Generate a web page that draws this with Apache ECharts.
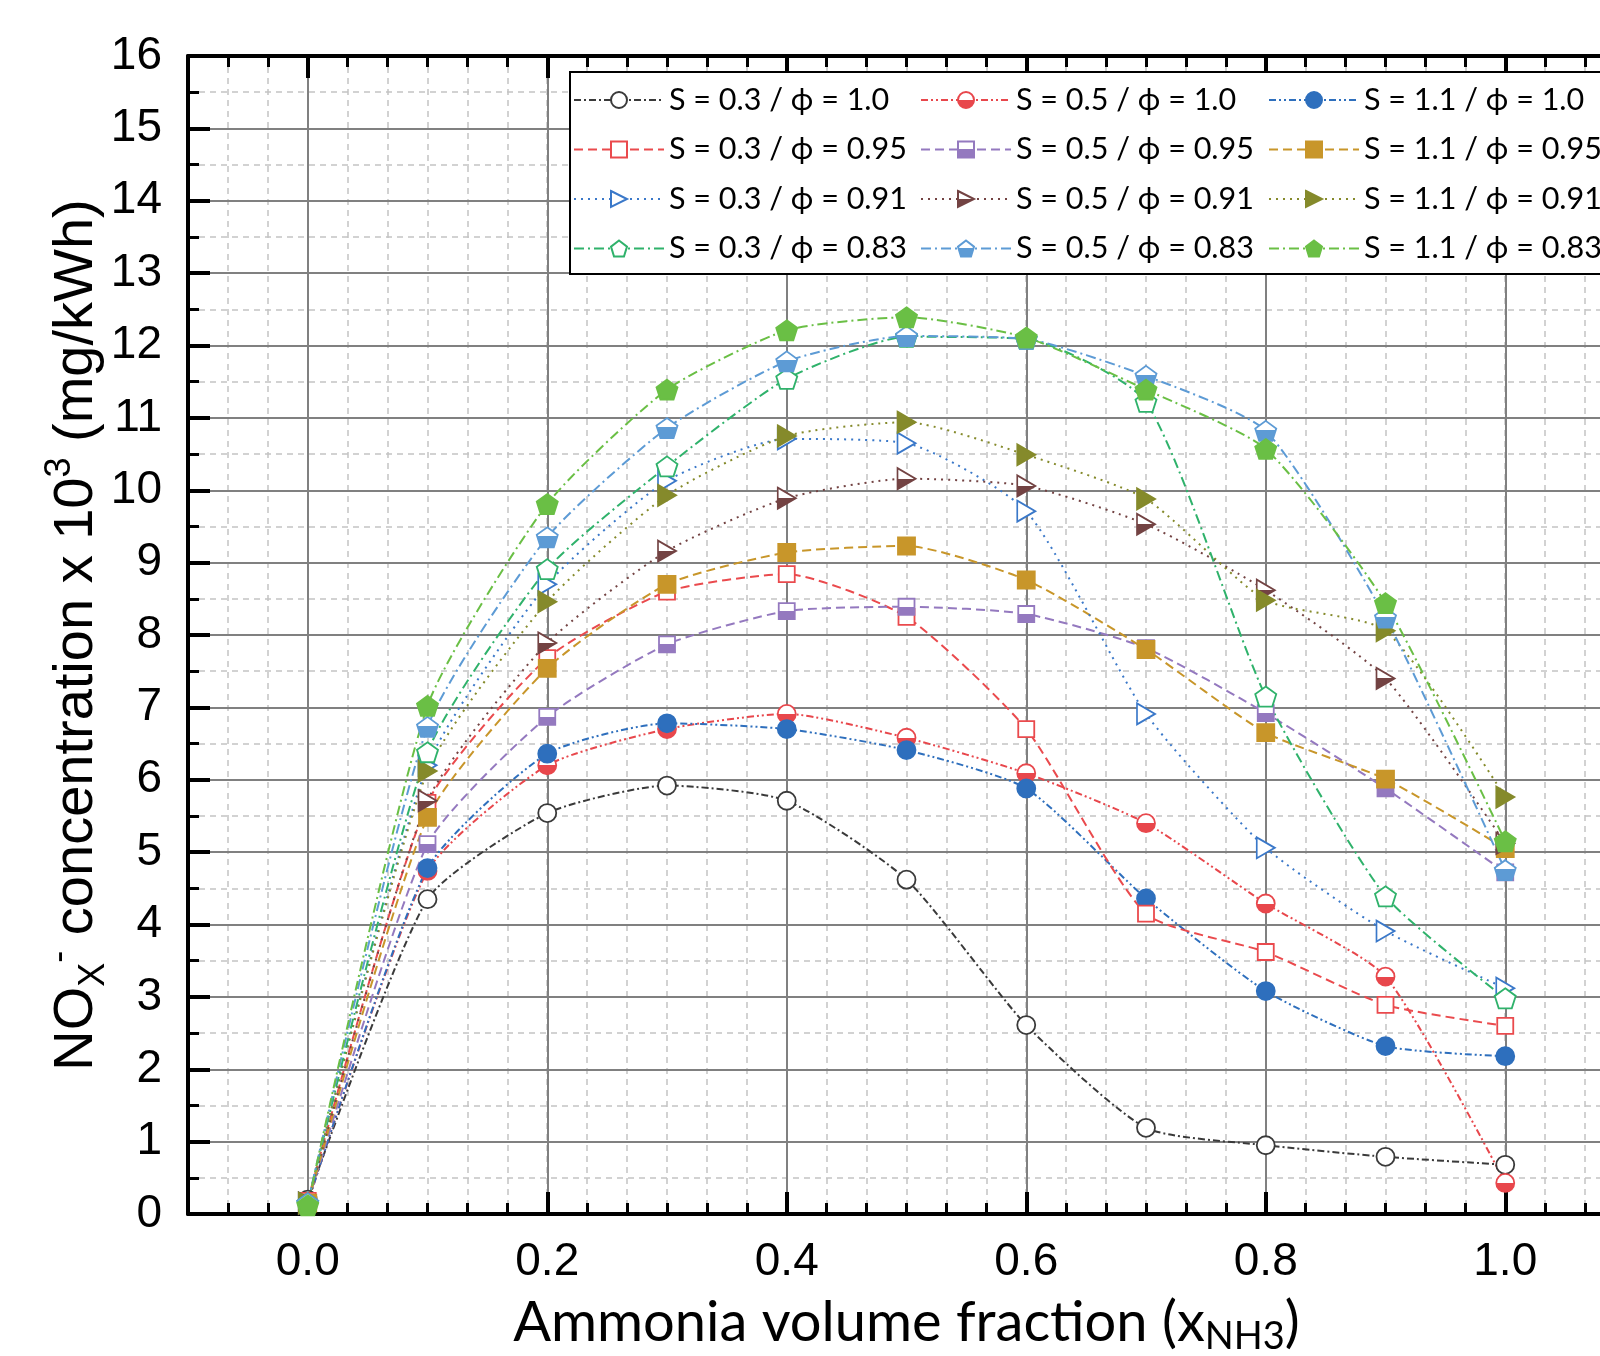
<!DOCTYPE html>
<html>
<head>
<meta charset="utf-8">
<script src="https://cdn.jsdelivr.net/npm/echarts@6/dist/echarts.min.js"></script>
<style>
html,body{margin:0;padding:0;background:#fff;overflow:hidden;}
#chart{width:1600px;height:1356px;}
</style>
</head>
<body>
<div id="chart"></div>
<script>
// ---------- data ----------
const xValues = [0, 0.1, 0.2, 0.3, 0.4, 0.5, 0.6, 0.7, 0.8, 0.9, 1.0];
const s03_phi100 = [0.20, 4.35, 5.54, 5.92, 5.71, 4.62, 2.61, 1.19, 0.95, 0.79, 0.68];
const s05_phi100 = [0.15, 4.74, 6.20, 6.70, 6.91, 6.58, 6.09, 5.40, 4.29, 3.28, 0.43];
const s11_phi100 = [0.15, 4.78, 6.36, 6.78, 6.70, 6.41, 5.88, 4.36, 3.08, 2.32, 2.18];
const s03_phi095 = [0.18, 5.68, 7.68, 8.60, 8.84, 8.25, 6.70, 4.15, 3.62, 2.89, 2.60];
const s05_phi095 = [0.15, 5.11, 6.87, 7.87, 8.33, 8.39, 8.29, 7.82, 6.92, 5.88, 4.72];
const s11_phi095 = [0.15, 5.48, 7.54, 8.70, 9.14, 9.23, 8.76, 7.80, 6.65, 6.01, 5.05];
const s03_phi091 = [0.15, 6.20, 8.70, 10.13, 10.71, 10.65, 9.71, 6.91, 5.06, 3.91, 3.12];
const s05_phi091 = [0.15, 5.71, 7.89, 9.16, 9.89, 10.16, 10.06, 9.53, 8.62, 7.40, 5.12];
const s11_phi091 = [0.15, 6.12, 8.46, 9.93, 10.75, 10.94, 10.49, 9.88, 8.48, 8.06, 5.76];
const s03_phi083 = [0.15, 6.38, 8.91, 10.33, 11.54, 12.12, 12.09, 11.22, 7.15, 4.39, 2.98];
const s05_phi083 = [0.15, 6.73, 9.35, 10.86, 11.78, 12.13, 12.09, 11.58, 10.82, 8.24, 4.75];
const s11_phi083 = [0.12, 7.02, 9.81, 11.39, 12.21, 12.39, 12.11, 11.39, 10.57, 8.44, 5.15];

const seriesNames = [
  'S = 0.3 / \u03D5 = 1.0', 'S = 0.5 / \u03D5 = 1.0', 'S = 1.1 / \u03D5 = 1.0',
  'S = 0.3 / \u03D5 = 0.95', 'S = 0.5 / \u03D5 = 0.95', 'S = 1.1 / \u03D5 = 0.95',
  'S = 0.3 / \u03D5 = 0.91', 'S = 0.5 / \u03D5 = 0.91', 'S = 1.1 / \u03D5 = 0.91',
  'S = 0.3 / \u03D5 = 0.83', 'S = 0.5 / \u03D5 = 0.83', 'S = 1.1 / \u03D5 = 0.83'
];
const seriesValues = [
  s03_phi100, s05_phi100, s11_phi100,
  s03_phi095, s05_phi095, s11_phi095,
  s03_phi091, s05_phi091, s11_phi091,
  s03_phi083, s05_phi083, s11_phi083
];

// ---------- styles ----------
const TRI = 'path://M0,0 L17,10 L0,20 Z';
const PENT = 'path://M10,0 L19.5,6.9 L15.9,18.1 L4.1,18.1 L0.5,6.9 Z';
const DASHDOT = [7, 3, 2, 3];
const DASHDOTDOT = [7, 3, 2, 3, 2, 3];
const DASHED = [9, 5];
const DOTTED = [2, 5];
const DASHDOT2 = [10, 4, 2, 4];

function half(c, off) {
  return {type: 'linear', x: 0, y: 0, x2: 0, y2: 1, colorStops: [
    {offset: 0, color: '#fff'}, {offset: off, color: '#fff'},
    {offset: off, color: c}, {offset: 1, color: c}]};
}
const styles = [
  {c: '#3a3a3a', sym: 'circle', size: 18, fill: 'open', dash: DASHDOT},
  {c: '#e8474c', sym: 'circle', size: 18, fill: 'half', dash: DASHDOTDOT},
  {c: '#2e6fbd', sym: 'circle', size: 18, fill: 'full', dash: DASHDOTDOT},
  {c: '#ea4a4d', sym: 'rect', size: 16, fill: 'open', dash: DASHED},
  {c: '#9479bf', sym: 'rect', size: 16, fill: 'half', dash: DASHED},
  {c: '#c8962a', sym: 'rect', size: 17, fill: 'full', dash: DASHED},
  {c: '#3a78c9', sym: TRI, size: [18, 21], fill: 'open', dash: DOTTED},
  {c: '#734343', sym: TRI, size: [18, 21], fill: 'half', dash: DOTTED},
  {c: '#858a2b', sym: TRI, size: [18, 21], fill: 'full', dash: DOTTED},
  {c: '#2fb26b', sym: PENT, size: [21, 20], fill: 'open', dash: DASHDOT2},
  {c: '#5d9bd5', sym: PENT, size: [21, 20], fill: 'half', dash: DASHDOT2},
  {c: '#6abf45', sym: PENT, size: [21, 20], fill: 'full', dash: DASHDOT2}
];

const series = seriesNames.map((name, i) => {
  const st = styles[i];
  let fillColor = st.c;
  if (st.fill === 'open') fillColor = '#fff';
  if (st.fill === 'half') fillColor = half(st.c, st.sym === PENT ? 0.45 : 0.5);
  return {
    name: name,
    type: 'line',
    xAxisIndex: 0,
    yAxisIndex: 0,
    smooth: 0.2,
    symbol: st.sym,
    symbolSize: st.size,
    showAllSymbol: true,
    z: 2,
    lineStyle: {color: st.c, width: 2, type: st.dash},
    itemStyle: {color: fillColor, borderColor: st.c, borderWidth: 1.8, opacity: 1},
    emphasis: {disabled: true},
    data: xValues.map((x, k) => [x, seriesValues[i][k]])
  };
});

const axisFont = 'Liberation Sans, Arial, sans-serif';
const legendFont = 'Lato, Open Sans, sans-serif';

function majorX(pos, withLabel) {
  return {
    type: 'value', position: pos, min: -0.1, max: 1.1, gridIndex: 0,
    axisLine: {show: true, onZero: false, lineStyle: {color: '#000', width: 4}},
    axisTick: {show: true, inside: true, length: 22, lineStyle: {color: '#000', width: 4}},
    axisLabel: {show: withLabel, fontSize: 46, color: '#000', fontFamily: axisFont, margin: 25,
      showMinLabel: false, showMaxLabel: false,
      formatter: v => v.toFixed(1)},
    splitLine: {show: withLabel, lineStyle: {color: '#808080', width: 2}},
    name: withLabel ? 'Ammonia volume fraction (x{sub|NH3})' : '',
    nameLocation: 'middle', nameGap: 76,
    nameTextStyle: {fontSize: 56, color: '#000', fontFamily: legendFont, lineHeight: 66,
      rich: {sub: {fontSize: 38, fontFamily: legendFont, color: '#000', verticalAlign: 'bottom', lineHeight: 36}}},
    z: 1
  };
}
function minorX(pos) {
  return {
    type: 'value', position: pos, min: -0.1, max: 1.1, interval: 0.1 / 3, gridIndex: 0,
    axisLine: {show: false, onZero: false},
    axisTick: {show: true, inside: true, length: 11, lineStyle: {color: '#000', width: 3}},
    axisLabel: {show: false},
    splitLine: {show: pos === 'bottom', lineStyle: {color: '#c4c4c4', width: 1.5, type: [6, 5]}},
    z: 0
  };
}

const option = {
  backgroundColor: '#fff',
  animation: false,
  grid: {left: 188, top: 56, right: -25, bottom: 142, containLabel: false, outerBoundsMode: 'none'},
  xAxis: [majorX('bottom', true), minorX('bottom'), majorX('top', false), minorX('top')],
  yAxis: [{
    type: 'value', position: 'left', min: 0, max: 16, interval: 1,
    axisLine: {show: true, onZero: false, lineStyle: {color: '#000', width: 4}},
    axisTick: {show: true, inside: true, length: 22, lineStyle: {color: '#000', width: 4}},
    minorTick: {show: true, splitNumber: 2, length: 11, lineStyle: {color: '#000', width: 3}},
    axisLabel: {fontSize: 46, color: '#000', fontFamily: axisFont, margin: 26},
    splitLine: {show: true, lineStyle: {color: '#808080', width: 2}},
    minorSplitLine: {show: true, lineStyle: {color: '#c4c4c4', width: 1.5, type: [6, 5]}},
    name: 'NO{sub|X}{sup|-} concentration x 10{sup|3} (mg/kWh)',
    nameLocation: 'middle', nameGap: 76, nameRotate: 90, nameMoveOverlap: false,
    nameTextStyle: {fontSize: 56, color: '#000', fontFamily: axisFont, lineHeight: 70,
      rich: {
        sub: {fontSize: 36, fontFamily: axisFont, color: '#000', verticalAlign: 'bottom', lineHeight: 40},
        sup: {fontSize: 36, fontFamily: axisFont, color: '#000', verticalAlign: 'top', lineHeight: 40}
      }},
    z: 1
  }],
  graphic: [{
    type: 'rect', left: 569, top: 71, z: 3,
    shape: {x: 0, y: 0, width: 1100, height: 202},
    style: {fill: '#fff', stroke: '#000', lineWidth: 2}
  }],
  legend: [0, 1, 2].map(col => ({
    orient: 'vertical',
    left: [573, 920, 1268][col],
    top: 82,
    padding: 0,
    itemWidth: 90,
    itemHeight: 20,
    itemGap: 13.5,
    selectedMode: false,
    z: 5,
    textStyle: {fontSize: 30.5, color: '#000', fontFamily: legendFont, lineHeight: 36},
    data: [0, 1, 2, 3].map(row => seriesNames[row * 3 + col])
  })),
  series: series
};

const chart = echarts.init(document.getElementById('chart'), null, {renderer: 'canvas'});
chart.setOption(option);
</script>
</body>
</html>
